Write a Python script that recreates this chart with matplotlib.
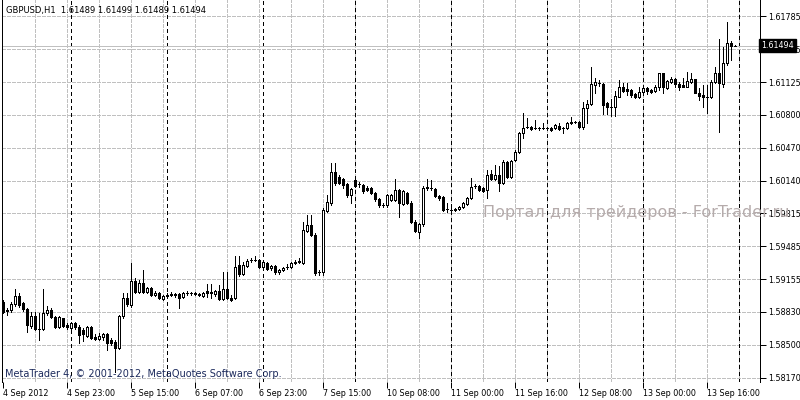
import matplotlib
matplotlib.use("Agg")
import matplotlib.pyplot as plt
import matplotlib.transforms as mtransforms
import numpy as np

# GBPUSD H1, 4 Sep 2012 07:00 .. 13 Sep 2012 23:00 (184 bars)
opens = [
    1.5893, 1.5885, 1.5885, 1.5891, 1.5899, 1.5892, 1.5886, 1.5869, 1.5879, 1.5866,
    1.5866, 1.5882, 1.5885, 1.5878, 1.5868, 1.5877, 1.5870, 1.5867, 1.5872, 1.5868,
    1.5865, 1.5859, 1.5868, 1.5858, 1.5856, 1.5858, 1.5861, 1.5855, 1.5853, 1.5847,
    1.5879, 1.5897, 1.5890, 1.5914, 1.5903, 1.5912, 1.5903, 1.5907, 1.5900, 1.5902,
    1.5896, 1.5899, 1.5900, 1.5901, 1.5901, 1.5898, 1.5902, 1.5902, 1.5902, 1.5901,
    1.5899, 1.5904, 1.5903, 1.5901, 1.5904, 1.5896, 1.5906, 1.5897, 1.5897, 1.5930,
    1.5921, 1.5929, 1.5935, 1.5935, 1.5935, 1.5928, 1.5932, 1.5927, 1.5929, 1.5923,
    1.5925, 1.5928, 1.5928, 1.5932, 1.5933, 1.5932, 1.5964, 1.5970, 1.5960, 1.5923,
    1.5923, 1.5984, 1.5992, 1.6023, 1.6018, 1.6016, 1.6011, 1.6000, 1.6015, 1.6011,
    1.6010, 1.6007, 1.6007, 1.6002, 1.5996, 1.5990, 1.5990, 1.5995, 1.5995, 1.6005,
    1.5991, 1.6002, 1.5992, 1.5973, 1.5963, 1.5971, 1.6007, 1.6007, 1.6006, 1.5999,
    1.5998, 1.5986, 1.5985, 1.5985, 1.5986, 1.5988, 1.5991, 1.5997, 1.6009, 1.6009,
    1.6007, 1.6005, 1.6021, 1.6016, 1.6020, 1.6012, 1.6033, 1.6018, 1.6035, 1.6043,
    1.6062, 1.6068, 1.6068, 1.6067, 1.6067, 1.6067, 1.6067, 1.6067, 1.6067, 1.6069,
    1.6067, 1.6067, 1.6072, 1.6073, 1.6073, 1.6068, 1.6087, 1.6091, 1.6110, 1.6112,
    1.6111, 1.6092, 1.6088, 1.6088, 1.6098, 1.6108, 1.6106, 1.6105, 1.6101, 1.6098,
    1.6103, 1.6107, 1.6105, 1.6104, 1.6108, 1.6122, 1.6107, 1.6113, 1.6116, 1.6111,
    1.6110, 1.6108, 1.6113, 1.6116, 1.6102, 1.6100, 1.6098, 1.6098, 1.6113, 1.6122,
    1.6111, 1.6132, 1.6152, 1.61489,
]
highs = [
    1.5895, 1.5887, 1.5893, 1.5906, 1.5902, 1.5893, 1.5887, 1.5883, 1.5883, 1.5882,
    1.5906, 1.5889, 1.5887, 1.5879, 1.5879, 1.5877, 1.5872, 1.5873, 1.5873, 1.5870,
    1.5867, 1.5869, 1.5869, 1.5861, 1.5862, 1.5862, 1.5862, 1.5857, 1.5855, 1.5880,
    1.5902, 1.5902, 1.5932, 1.5917, 1.5915, 1.5925, 1.5908, 1.5908, 1.5904, 1.5903,
    1.5900, 1.5902, 1.5903, 1.5902, 1.5902, 1.5903, 1.5904, 1.5903, 1.5903, 1.5902,
    1.5903, 1.5911, 1.5911, 1.5905, 1.5910, 1.5923, 1.5923, 1.5900, 1.5939, 1.5939,
    1.5933, 1.5936, 1.5937, 1.5939, 1.5936, 1.5934, 1.5933, 1.5930, 1.5930, 1.5926,
    1.5928, 1.5931, 1.5933, 1.5935, 1.5937, 1.5973, 1.5980, 1.5980, 1.5962, 1.5925,
    1.5987, 1.6000, 1.6032, 1.6032, 1.6020, 1.6017, 1.6012, 1.6007, 1.6018, 1.6013,
    1.6011, 1.6009, 1.6008, 1.6003, 1.5997, 1.5992, 1.6001, 1.6001, 1.6016, 1.6006,
    1.6005, 1.6003, 1.5994, 1.5975, 1.5972, 1.6009, 1.6016, 1.6015, 1.6007, 1.6000,
    1.5999, 1.5992, 1.5987, 1.5987, 1.5989, 1.5993, 1.5998, 1.6017, 1.6011, 1.6010,
    1.6008, 1.6025, 1.6025, 1.6030, 1.6029, 1.6035, 1.6034, 1.6035, 1.6045, 1.6063,
    1.6082, 1.6077, 1.6069, 1.6075, 1.6068, 1.6072, 1.6068, 1.6068, 1.6071, 1.6072,
    1.6068, 1.6073, 1.6078, 1.6074, 1.6074, 1.6093, 1.6095, 1.6128, 1.6117, 1.6115,
    1.6112, 1.6093, 1.6096, 1.6104, 1.6115, 1.6112, 1.6112, 1.6106, 1.6102, 1.6108,
    1.6108, 1.6108, 1.6106, 1.6110, 1.6122, 1.6122, 1.6115, 1.6118, 1.6117, 1.6113,
    1.6117, 1.6123, 1.6122, 1.6116, 1.6107, 1.6110, 1.6110, 1.6115, 1.6128, 1.6156,
    1.6148, 1.6173, 1.6154, 1.61499,
]
lows = [
    1.5882, 1.5880, 1.5883, 1.5889, 1.5888, 1.5884, 1.5863, 1.5867, 1.5865, 1.5855,
    1.5865, 1.5880, 1.5877, 1.5867, 1.5867, 1.5868, 1.5866, 1.5864, 1.5866, 1.5852,
    1.5854, 1.5858, 1.5856, 1.5855, 1.5855, 1.5855, 1.5845, 1.5850, 1.5823, 1.5846,
    1.5877, 1.5889, 1.5888, 1.5902, 1.5902, 1.5902, 1.5902, 1.5899, 1.5899, 1.5896,
    1.5895, 1.5898, 1.5899, 1.5898, 1.5887, 1.5897, 1.5900, 1.5900, 1.5900, 1.5899,
    1.5898, 1.5898, 1.5897, 1.5899, 1.5895, 1.5895, 1.5896, 1.5894, 1.5896, 1.5919,
    1.5920, 1.5928, 1.5933, 1.5934, 1.5927, 1.5927, 1.5925, 1.5925, 1.5921, 1.5921,
    1.5924, 1.5926, 1.5927, 1.5931, 1.5932, 1.5931, 1.5963, 1.5959, 1.5920, 1.5920,
    1.5920, 1.5983, 1.5990, 1.6010, 1.6011, 1.6007, 1.5998, 1.5992, 1.6008, 1.6008,
    1.6002, 1.6004, 1.6001, 1.5994, 1.5988, 1.5988, 1.5988, 1.5994, 1.5994, 1.5978,
    1.5990, 1.5991, 1.5972, 1.5963, 1.5957, 1.5969, 1.6005, 1.6005, 1.5998, 1.5995,
    1.5984, 1.5983, 1.5984, 1.5984, 1.5985, 1.5987, 1.5990, 1.5996, 1.6007, 1.6004,
    1.6003, 1.5997, 1.6015, 1.6015, 1.6004, 1.6011, 1.6017, 1.6017, 1.6034, 1.6042,
    1.6057, 1.6067, 1.6065, 1.6066, 1.6065, 1.6066, 1.6066, 1.6064, 1.6066, 1.6065,
    1.6062, 1.6066, 1.6071, 1.6072, 1.6067, 1.6066, 1.6072, 1.6090, 1.6102, 1.6109,
    1.6081, 1.6081, 1.6079, 1.6079, 1.6098, 1.6103, 1.6100, 1.6098, 1.6097, 1.6097,
    1.6102, 1.6101, 1.6102, 1.6103, 1.6105, 1.6102, 1.6106, 1.6112, 1.6108, 1.6105,
    1.6108, 1.6108, 1.6112, 1.6102, 1.6095, 1.6088, 1.6082, 1.6097, 1.6112, 1.6063,
    1.6108, 1.6130, 1.6135, 1.61489,
]
closes = [
    1.5883, 1.5884, 1.5891, 1.5899, 1.5890, 1.5886, 1.5870, 1.5879, 1.5866, 1.5866,
    1.5882, 1.5885, 1.5878, 1.5868, 1.5878, 1.5869, 1.5868, 1.5872, 1.5868, 1.5860,
    1.5861, 1.5868, 1.5857, 1.5856, 1.5859, 1.5861, 1.5852, 1.5852, 1.5847, 1.5879,
    1.5897, 1.5891, 1.5914, 1.5903, 1.5912, 1.5903, 1.5907, 1.5900, 1.5902, 1.5897,
    1.5899, 1.5900, 1.5901, 1.5900, 1.5897, 1.5902, 1.5902, 1.5902, 1.5901, 1.5900,
    1.5902, 1.5902, 1.5902, 1.5904, 1.5896, 1.5906, 1.5897, 1.5895, 1.5928, 1.5921,
    1.5930, 1.5934, 1.5935, 1.5935, 1.5928, 1.5933, 1.5926, 1.5929, 1.5923, 1.5925,
    1.5927, 1.5928, 1.5932, 1.5933, 1.5934, 1.5965, 1.5970, 1.5960, 1.5922, 1.5923,
    1.5985, 1.5993, 1.6023, 1.6012, 1.6012, 1.6010, 1.6000, 1.6006, 1.6009, 1.6011,
    1.6004, 1.6005, 1.6002, 1.5996, 1.5990, 1.5990, 1.6000, 1.6000, 1.6005, 1.5992,
    1.6004, 1.5992, 1.5973, 1.5964, 1.5971, 1.6007, 1.6008, 1.6007, 1.5999, 1.5997,
    1.5985, 1.5986, 1.5985, 1.5986, 1.5988, 1.5992, 1.5997, 1.6008, 1.6009, 1.6005,
    1.6004, 1.6020, 1.6016, 1.6020, 1.6012, 1.6033, 1.6018, 1.6034, 1.6043, 1.6062,
    1.6067, 1.6068, 1.6066, 1.6067, 1.6067, 1.6067, 1.6067, 1.6065, 1.6070, 1.6066,
    1.6067, 1.6072, 1.6073, 1.6073, 1.6068, 1.6087, 1.6091, 1.6111, 1.6113, 1.6112,
    1.6090, 1.6088, 1.6088, 1.6099, 1.6108, 1.6104, 1.6104, 1.6100, 1.6098, 1.6103,
    1.6107, 1.6104, 1.6103, 1.6108, 1.6122, 1.6108, 1.6114, 1.6116, 1.6111, 1.6108,
    1.6108, 1.6114, 1.6116, 1.6102, 1.6099, 1.6098, 1.6098, 1.6113, 1.6122, 1.6112,
    1.6132, 1.6152, 1.6149, 1.61494,
]

price_ticks = [1.61785, 1.61455, 1.61125, 1.60800, 1.60470, 1.60140,
               1.59815, 1.59485, 1.59155, 1.58830, 1.58500, 1.58170]
time_tick_bars = [0, 16, 32, 48, 64, 80, 96, 112, 128, 144, 160, 176]
time_tick_labels = ["4 Sep 2012", "4 Sep 23:00", "5 Sep 15:00", "6 Sep 07:00",
                    "6 Sep 23:00", "7 Sep 15:00", "10 Sep 08:00", "11 Sep 00:00",
                    "11 Sep 16:00", "12 Sep 08:00", "13 Sep 00:00", "13 Sep 16:00"]
day_start_bars = [17, 41, 65, 88, 112, 136, 160, 184]
last_price = 1.61494

o = np.array(opens)
h = np.array(highs)
l = np.array(lows)
c = np.array(closes)
x = np.arange(len(o))

fig = plt.figure(figsize=(8, 4), dpi=100)
ax = fig.add_axes([2 / 800, 18 / 400, 758 / 800, 382 / 400])
ax.set_xlim(-0.25, 189.25)
ax.set_ylim(1.58130, 1.61950)

px = 0.72  # one pixel in points
grid_kw = dict(color="#c0c0c0", lw=px, linestyle=(0, (4, 2)), antialiased=False, zorder=0)
for p in price_ticks:
    ax.axhline(p, **grid_kw)
for b in range(8, 190, 8):
    ax.axvline(b, **grid_kw)
for b in day_start_bars:
    ax.axvline(b, color="black", lw=px, linestyle=(0, (3, 3)), antialiased=False, zorder=1)
ax.axhline(last_price, color="#c0c0c0", lw=px, antialiased=False, zorder=1)

# candles
ax.vlines(x, l, h, color="black", lw=px, antialiased=False, zorder=2)
up = c > o
down = c < o
flat = c == o
ax.bar(x[up], (c - o)[up], bottom=o[up], width=0.5, color="white",
       edgecolor="black", linewidth=px, antialiased=False, zorder=3)
ax.bar(x[down], (o - c)[down], bottom=c[down], width=0.5, color="black",
       edgecolor="black", linewidth=px, antialiased=False, zorder=3)
ax.hlines(o[flat], x[flat] - 0.35, x[flat] + 0.35, color="black", lw=px,
          antialiased=False, zorder=3)

# axes look: frame only left and right, ticks below / right
for s in ["top", "bottom"]:
    ax.spines[s].set_visible(False)
for s in ["left", "right"]:
    ax.spines[s].set_linewidth(px)
ax.yaxis.tick_right()
ax.set_yticks(price_ticks)
ax.set_yticklabels(["%.5f" % p for p in price_ticks])
ax.set_xticks(time_tick_bars)
ax.set_xticklabels(time_tick_labels, ha="left")
ax.tick_params(axis="both", length=4, width=px, labelsize=5.75, colors="black")
ax.tick_params(axis="x", pad=1)
ax.tick_params(axis="y", pad=2)

trans = mtransforms.blended_transform_factory(ax.transAxes, ax.transData)
ax.text(1.0015, last_price, "%.5f" % last_price, transform=trans, fontsize=5.75,
        color="white", va="center", ha="left",
        bbox=dict(boxstyle="square,pad=0.3", fc="black", ec="black"), zorder=5,
        clip_on=False)

fig.text(6 / 800, 1 - 10 / 400, "GBPUSD,H1  1.61489 1.61499 1.61489 1.61494",
         fontsize=6, va="center", ha="left", color="black")
fig.text(5 / 800, 1 - 374 / 400, "MetaTrader 4, \u00a9 2001-2012, MetaQuotes Software Corp.",
         fontsize=7, va="center", ha="left", color="#1c2a5c")
fig.text(483 / 800, 1 - 212 / 400, "Портал для трейдеров - ForTrader.ru",
         fontsize=11.5, va="center", ha="left", color="#b5abab", zorder=10)

fig.savefig("out.png", dpi=100, facecolor="white")
